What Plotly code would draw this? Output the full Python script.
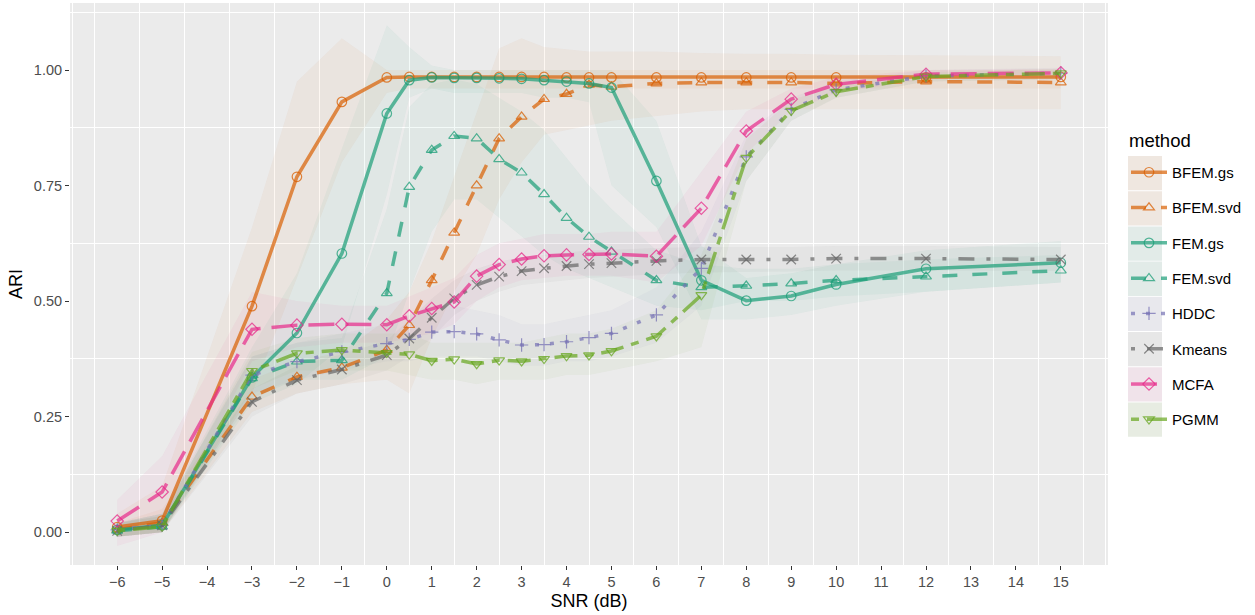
import plotly.graph_objects as go

# ---------------- data ----------------
snr = [-6, -5, -3, -2, -1, 0, 0.5, 1, 1.5, 2, 2.5, 3, 3.5, 4, 4.5, 5, 6, 7, 8, 9, 10, 12, 15]

methods = ["BFEM.gs", "BFEM.svd", "FEM.gs", "FEM.svd", "HDDC", "Kmeans", "MCFA", "PGMM"]

bfem_gs_mean = [0.011, 0.025, 0.489, 0.769, 0.931, 0.984, 0.985, 0.985, 0.985, 0.985, 0.985, 0.985, 0.985, 0.984, 0.984, 0.984, 0.984, 0.984, 0.984, 0.984, 0.984, 0.984, 0.985]
bfem_gs_lo = [-0.01, 0.0, 0.30, 0.55, 0.80, 0.95, 0.96, 0.96, 0.96, 0.96, 0.96, 0.96, 0.96, 0.96, 0.96, 0.96, 0.96, 0.96, 0.96, 0.96, 0.96, 0.96, 0.96]
bfem_gs_hi = [0.04, 0.10, 0.66, 0.975, 1.069, 1.00, 1.0, 1.0, 1.0, 1.0, 1.0, 1.0, 1.0, 1.0, 1.0, 1.0, 1.0, 1.0, 1.0, 1.0, 1.0, 1.0, 1.0]

bfem_svd_mean = [0.005, 0.02, 0.293, 0.336, 0.356, 0.394, 0.448, 0.545, 0.648, 0.75, 0.852, 0.899, 0.937, 0.948, 0.968, 0.964, 0.971, 0.973, 0.973, 0.973, 0.971, 0.975, 0.973]
bfem_svd_lo = [-0.01, 0.0, 0.26, 0.30, 0.32, 0.33, 0.30, 0.42, 0.52, 0.60, 0.72, 0.80, 0.86, 0.87, 0.88, 0.89, 0.90, 0.91, 0.915, 0.915, 0.915, 0.915, 0.915]
bfem_svd_hi = [0.02, 0.05, 0.33, 0.37, 0.39, 0.46, 0.52, 0.63, 0.77, 0.91, 1.047, 1.069, 1.05, 1.045, 1.04, 1.04, 1.04, 1.037, 1.035, 1.035, 1.033, 1.032, 1.03]

fem_gs_mean = [0.005, 0.015, 0.335, 0.431, 0.603, 0.906, 0.978, 0.984, 0.983, 0.983, 0.982, 0.981, 0.978, 0.975, 0.971, 0.962, 0.760, 0.545, 0.501, 0.511, 0.536, 0.570, 0.583]
fem_gs_lo = [-0.01, 0.0, 0.28, 0.32, 0.40, 0.73, 0.94, 0.96, 0.95, 0.95, 0.95, 0.95, 0.94, 0.94, 0.93, 0.75, 0.66, 0.46, 0.46, 0.47, 0.49, 0.52, 0.54]
fem_gs_hi = [0.02, 0.04, 0.40, 0.56, 0.83, 1.097, 1.05, 1.01, 1.0, 1.0, 1.0, 1.0, 1.0, 1.0, 1.0, 1.0, 0.89, 0.62, 0.55, 0.56, 0.58, 0.61, 0.63]

fem_svd_mean = [0.003, 0.012, 0.333, 0.369, 0.372, 0.517, 0.747, 0.827, 0.857, 0.852, 0.807, 0.778, 0.731, 0.680, 0.639, 0.607, 0.545, 0.530, 0.533, 0.538, 0.545, 0.553, 0.566]
fem_svd_lo = [-0.01, 0.0, 0.29, 0.33, 0.33, 0.38, 0.52, 0.65, 0.72, 0.72, 0.68, 0.64, 0.60, 0.57, 0.55, 0.53, 0.49, 0.48, 0.50, 0.50, 0.51, 0.52, 0.54]
fem_svd_hi = [0.02, 0.04, 0.38, 0.41, 0.42, 0.70, 0.92, 0.97, 0.98, 0.97, 0.94, 0.91, 0.87, 0.81, 0.75, 0.70, 0.61, 0.58, 0.57, 0.57, 0.58, 0.59, 0.60]

hddc_mean = [0.005, 0.015, 0.34, 0.369, 0.39, 0.408, 0.417, 0.433, 0.434, 0.429, 0.416, 0.405, 0.406, 0.412, 0.421, 0.430, 0.470, 0.571, 0.812, 0.915, 0.957, 0.987, 0.993]
hddc_lo = [-0.01, 0.0, 0.30, 0.33, 0.35, 0.37, 0.37, 0.38, 0.38, 0.38, 0.37, 0.36, 0.36, 0.37, 0.37, 0.38, 0.41, 0.49, 0.76, 0.89, 0.94, 0.975, 0.98]
hddc_hi = [0.02, 0.04, 0.38, 0.41, 0.43, 0.45, 0.47, 0.49, 0.49, 0.48, 0.47, 0.45, 0.45, 0.46, 0.47, 0.48, 0.53, 0.65, 0.86, 0.94, 0.975, 1.0, 1.005]

kmeans_mean = [0.003, 0.015, 0.282, 0.329, 0.352, 0.383, 0.419, 0.464, 0.506, 0.535, 0.553, 0.565, 0.571, 0.576, 0.580, 0.582, 0.587, 0.590, 0.590, 0.590, 0.592, 0.592, 0.590]
kmeans_lo = [-0.01, 0.0, 0.25, 0.30, 0.32, 0.35, 0.38, 0.42, 0.47, 0.50, 0.52, 0.535, 0.54, 0.545, 0.55, 0.553, 0.558, 0.562, 0.563, 0.564, 0.566, 0.566, 0.565]
kmeans_hi = [0.02, 0.035, 0.31, 0.36, 0.385, 0.415, 0.46, 0.505, 0.545, 0.57, 0.585, 0.595, 0.60, 0.605, 0.61, 0.611, 0.615, 0.617, 0.617, 0.617, 0.619, 0.619, 0.617]

mcfa_mean = [0.024, 0.087, 0.439, 0.448, 0.450, 0.449, 0.468, 0.484, 0.498, 0.554, 0.579, 0.591, 0.598, 0.600, 0.601, 0.602, 0.597, 0.701, 0.868, 0.937, 0.969, 0.991, 0.994]
mcfa_lo = [-0.03, 0.0, 0.37, 0.40, 0.41, 0.41, 0.42, 0.43, 0.45, 0.50, 0.53, 0.545, 0.55, 0.555, 0.555, 0.555, 0.54, 0.62, 0.82, 0.91, 0.95, 0.98, 0.985]
mcfa_hi = [0.07, 0.165, 0.52, 0.50, 0.49, 0.49, 0.51, 0.53, 0.55, 0.60, 0.625, 0.635, 0.645, 0.645, 0.645, 0.65, 0.65, 0.78, 0.91, 0.96, 0.985, 1.0, 1.003]

pgmm_mean = [0.003, 0.012, 0.349, 0.387, 0.394, 0.388, 0.385, 0.371, 0.374, 0.364, 0.372, 0.370, 0.375, 0.381, 0.383, 0.392, 0.424, 0.513, 0.81, 0.912, 0.953, 0.986, 0.993]
pgmm_lo = [-0.01, 0.0, 0.31, 0.35, 0.35, 0.35, 0.34, 0.33, 0.33, 0.32, 0.33, 0.33, 0.33, 0.34, 0.34, 0.35, 0.37, 0.40, 0.76, 0.89, 0.94, 0.975, 0.98]
pgmm_hi = [0.02, 0.035, 0.39, 0.42, 0.43, 0.43, 0.43, 0.41, 0.41, 0.41, 0.41, 0.41, 0.42, 0.43, 0.43, 0.44, 0.48, 0.60, 0.85, 0.935, 0.965, 0.995, 1.003]

x_ticks = list(range(-6, 16))
y_ticks = [0.0, 0.25, 0.5, 0.75, 1.0]
y_ticklabels = ["0.00", "0.25", "0.50", "0.75", "1.00"]

# ---------------- styles ----------------
series = {
    "BFEM.gs": (bfem_gs_mean, bfem_gs_lo, bfem_gs_hi),
    "BFEM.svd": (bfem_svd_mean, bfem_svd_lo, bfem_svd_hi),
    "FEM.gs": (fem_gs_mean, fem_gs_lo, fem_gs_hi),
    "FEM.svd": (fem_svd_mean, fem_svd_lo, fem_svd_hi),
    "HDDC": (hddc_mean, hddc_lo, hddc_hi),
    "Kmeans": (kmeans_mean, kmeans_lo, kmeans_hi),
    "MCFA": (mcfa_mean, mcfa_lo, mcfa_hi),
    "PGMM": (pgmm_mean, pgmm_lo, pgmm_hi),
}
rgb = {
    "BFEM.gs": (217, 95, 2), "BFEM.svd": (217, 95, 2),
    "FEM.gs": (27, 158, 119), "FEM.svd": (27, 158, 119),
    "HDDC": (117, 112, 179), "Kmeans": (102, 102, 102),
    "MCFA": (231, 41, 138), "PGMM": (102, 166, 30),
}
dash = {
    "BFEM.gs": "solid", "BFEM.svd": "15px,15px",
    "FEM.gs": "solid", "FEM.svd": "15px,15px",
    "HDDC": "4px,11px", "Kmeans": "4px,12px,16px,12px",
    "MCFA": "26px,11px", "PGMM": "8px,8px,23px,8px",
}
symbol = {
    "BFEM.gs": "circle-open", "BFEM.svd": "triangle-up-open",
    "FEM.gs": "circle-open", "FEM.svd": "triangle-up-open",
    "HDDC": "cross-thin-open", "Kmeans": "x-thin-open",
    "MCFA": "diamond-open", "PGMM": "triangle-down-open",
}

def rgba(c, a):
    return "rgba(%d,%d,%d,%.3f)" % (c[0], c[1], c[2], a)

fig = go.Figure()

# ribbons
for m in methods:
    mean, lo, hi = series[m]
    fig.add_trace(go.Scatter(
        x=snr + snr[::-1], y=hi + lo[::-1], fill="toself",
        fillcolor=rgba(rgb[m], 0.05), line=dict(width=0),
        mode="lines", hoverinfo="skip", showlegend=False, legendgroup=m))

# lines + markers
for m in methods:
    mean, lo, hi = series[m]
    fig.add_trace(go.Scatter(
        x=snr, y=mean, name=m, legendgroup=m, mode="lines+markers",
        line=dict(color=rgba(rgb[m], 0.7), width=3.5, dash=dash[m]),
        marker=dict(symbol=symbol[m], size=9.5, color=rgba(rgb[m], 0.75),
                    line=dict(width=1.2, color=rgba(rgb[m], 0.75)))))

# legend key backgrounds (ggplot style)
W, H = 1255, 615
L, R, T, B = 70, 147, 3, 50
pw, ph = W - L - R, H - T - B
def px_x(px):
    return (px - L) / pw
def px_y(py):
    return (H - B - py) / ph

shapes = []
for i, m in enumerate(methods):
    top = 156 + 35.2 * i
    shapes.append(dict(type="rect", xref="paper", yref="paper",
                       x0=px_x(1128), x1=px_x(1162), y0=px_y(top + 34.3), y1=px_y(top),
                       fillcolor="#F2F2F2", line=dict(width=0), layer="below"))
    shapes.append(dict(type="rect", xref="paper", yref="paper",
                       x0=px_x(1128), x1=px_x(1162), y0=px_y(top + 34.3), y1=px_y(top),
                       fillcolor=rgba(rgb[m], 0.07), line=dict(width=0), layer="below"))

fig.update_layout(
    width=W, height=H,
    margin=dict(l=L, r=R, t=T, b=B, autoexpand=False),
    paper_bgcolor="white", plot_bgcolor="#EBEBEB",
    font=dict(family="Liberation Sans, Arial, sans-serif", color="black"),
    shapes=shapes,
    annotations=[dict(text="method", xref="paper", yref="paper",
                      x=px_x(1127), y=px_y(140), xanchor="left", yanchor="middle",
                      showarrow=False, font=dict(size=18.5, color="black"))],
    legend=dict(
        font=dict(size=15),
        x=px_x(1126), xanchor="left", y=px_y(156), yanchor="top",
        tracegroupgap=12.8, bgcolor="rgba(0,0,0,0)", itemwidth=36,
    ),
    xaxis=dict(
        range=[-7.05, 16.05], tickmode="array", tickvals=x_ticks,
        showgrid=False, zeroline=False, automargin=False,
        ticks="outside", ticklen=4, tickwidth=1, tickcolor="#333333",
        tickfont=dict(size=14.5, color="#4D4D4D"),
        minor=dict(tickmode="array", tickvals=[-7] + [v + 0.5 for v in range(-7, 16)] + [16],
                   showgrid=True, gridcolor="white", gridwidth=1.1, ticks=""),
        title=dict(text="SNR (dB)", font=dict(size=18), standoff=4),
    ),
    yaxis=dict(
        range=[-0.071, 1.145], tickmode="array", tickvals=y_ticks, ticktext=y_ticklabels,
        showgrid=False, zeroline=False, automargin=False,
        ticks="outside", ticklen=4, tickwidth=1, tickcolor="#333333",
        tickfont=dict(size=14.5, color="#4D4D4D"),
        minor=dict(tickmode="array", tickvals=[0.125, 0.375, 0.625, 0.875, 1.125],
                   showgrid=True, gridcolor="white", gridwidth=1.1, ticks=""),
        title=dict(text="ARI", font=dict(size=18), standoff=6),
    ),
)

fig.write_html("out.html", config={"displayModeBar": False},
               post_script="document.body.style.margin='0';")
